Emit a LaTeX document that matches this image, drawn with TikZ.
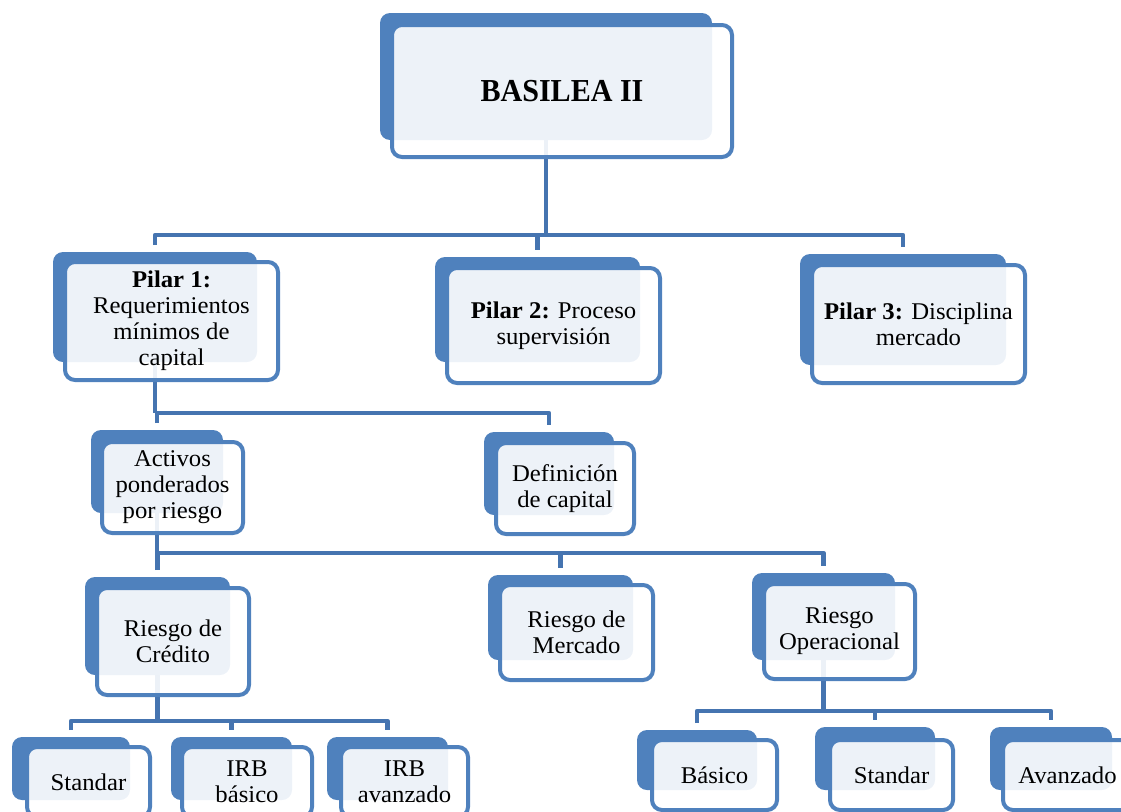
\documentclass[tikz,border=0pt]{standalone}
\usepackage{fontspec}
\setmainfont{Liberation Serif}[FakeStretch=1.03]
\newfontfamily\titlefont{Liberation Serif}[FakeStretch=0.94]
\definecolor{bblue}{HTML}{4F81BD}
\definecolor{cblue}{HTML}{4574B0}
\pgfdeclarelayer{bg}
\pgfsetlayers{bg,main}
\newcommand\bk[4]{\node[backbox, minimum width=#3pt, minimum height=#4pt] (b-#1) at (#2) {};}
\newcommand\fr[5]{\node[frontbox, minimum width=#3pt, minimum height=#4pt] (f-#1) at (#2) {#5};}
\begin{document}
\begin{tikzpicture}[x=1pt,y=-1pt,
 backbox/.style={rectangle, rounded corners=10pt, fill=bblue, inner sep=0pt, outer sep=0pt},
 frontbox/.style={rectangle, rounded corners=10pt, draw=bblue, line width=4pt, fill=white, fill opacity=0.9, text opacity=1, draw opacity=1, inner sep=0pt, outer sep=0pt, align=center, font=\fontsize{24}{26}\selectfont},
 titlebox/.style={frontbox, font=\titlefont\fontsize{32}{36}\selectfont\bfseries},
 conn/.style={draw=cblue, line width=4.5pt, line join=round},
 drop/.style={conn, shorten >=7pt},
 span/.style={conn, shorten <=7pt, shorten >=7pt}]
\useasboundingbox (0,0) rectangle (1121,811);
% back boxes
\bk{basilea}{546,76.5}{332}{127}
\bk{p1}{155,307}{204}{110}
\bk{p2}{537.5,309.5}{205}{105}
\bk{p3}{903,309.5}{206}{111}
\bk{activos}{157,471.5}{132}{83}
\bk{def}{549,473.5}{130}{83}
\bk{credito}{157.5,626}{145}{98}
\bk{mercado}{560.5,617.5}{145}{85}
\bk{oper}{823.5,616.5}{143}{87}
\bk{stdl}{71,768.5}{118}{63}
\bk{irbb}{231.5,768.5}{121}{63}
\bk{irba}{387.5,768.5}{121}{63}
\bk{basico}{697,760}{120}{60}
\bk{stdr}{875,758.5}{120}{63}
\bk{avz}{1051,758.5}{122}{63}
% front boxes
\node[titlebox, minimum width=340pt, minimum height=132pt] (f-basilea) at (562,91) {BASILEA II};
\fr{p1}{171.5,321}{213}{118}{\textbf{Pilar 1:}\\Requerimientos\\mínimos de\\capital}
\fr{p2}{553.5,325.5}{213}{115}{\textbf{Pilar 2:} Proceso\\supervisión}
\fr{p3}{918.5,324}{213}{118}{\textbf{Pilar 3:} Disciplina\\mercado}
\fr{activos}{172.5,487.5}{141}{91}{Activos\\ponderados\\por riesgo}
\fr{def}{565,488.5}{138}{91}{Definición\\de capital}
\fr{credito}{173,641.5}{152}{107}{Riesgo de\\Crédito}
\fr{mercado}{576.5,632.5}{153}{95}{Riesgo de\\Mercado}
\fr{oper}{839.5,631.5}{151}{95}{Riesgo\\Operacional}
\fr{stdl}{88.5,782}{123}{70}{Standar}
\fr{irbb}{247,782}{130}{70}{IRB\\básico}
\fr{irba}{404.5,782}{127}{70}{IRB\\avanzado}
\fr{basico}{714.5,775}{125}{70}{Básico}
\fr{stdr}{891.5,775}{123}{70}{Standar}
\fr{avz}{1067.5,775}{129}{70}{Avanzado}
% connectors
\begin{pgfonlayer}{bg}
\coordinate (j1) at (546,235);
\coordinate (j2) at (155,413);
\coordinate (j3) at (157,553);
\coordinate (j4) at (157.5,721);
\coordinate (j5) at (823.5,711);
\draw[conn] (b-basilea.south) -- (j1);
\draw[span] (b-p1.north) |- (j1 -| b-p3.north) -- (b-p3.north);
\draw[drop] (j1 -| b-p2.north) -- (b-p2.north);
\draw[conn] (b-p1.south) -- (j2);
\draw[span] (b-activos.north) |- (j2 -| b-def.north) -- (b-def.north);
\draw[conn] (b-activos.south) -- (j3);
\draw[span] (b-credito.north) |- (j3 -| b-oper.north) -- (b-oper.north);
\draw[drop] (j3 -| b-mercado.north) -- (b-mercado.north);
\draw[conn] (b-credito.south) -- (j4);
\draw[span] (b-stdl.north) |- (j4 -| b-irba.north) -- (b-irba.north);
\draw[drop] (j4 -| b-irbb.north) -- (b-irbb.north);
\draw[conn] (b-oper.south) -- (j5);
\draw[span] (b-basico.north) |- (j5 -| b-avz.north) -- (b-avz.north);
\draw[drop] (j5 -| b-stdr.north) -- (b-stdr.north);
\end{pgfonlayer}
\end{tikzpicture}
\end{document}
